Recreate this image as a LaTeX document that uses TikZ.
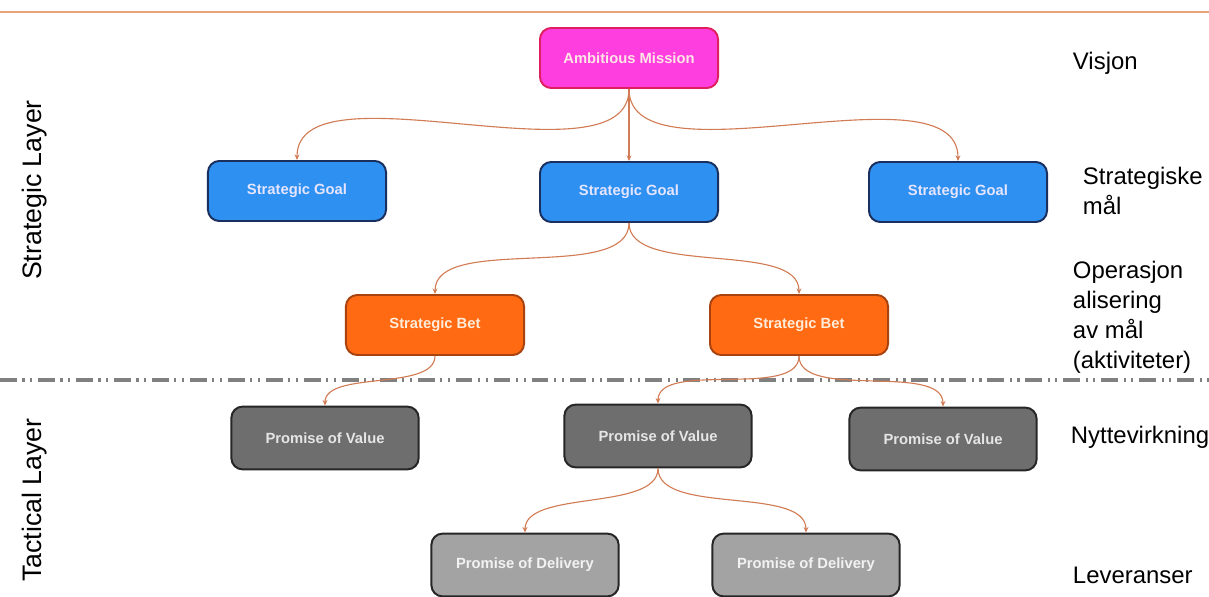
\documentclass[tikz,border=0pt]{standalone}
\usepackage{fontspec}
\setmainfont{Liberation Sans}
\usetikzlibrary{arrows.meta}

\definecolor{topline}{HTML}{E9A57A}
\definecolor{linkcol}{HTML}{D27C55}
\definecolor{missionfill}{HTML}{FF3EE0}
\definecolor{missionline}{HTML}{E0205E}
\definecolor{goalfill}{HTML}{2E90F0}
\definecolor{goalline}{HTML}{1B2F5E}
\definecolor{betfill}{HTML}{FF6A12}
\definecolor{betline}{HTML}{A8420E}
\definecolor{valuefill}{HTML}{6E6E6E}
\definecolor{deliveryfill}{HTML}{A3A3A3}

\tikzset{
  box/.style={draw, line width=1.4pt, rounded corners=8pt, inner sep=0pt,
    minimum width=4.45cm, minimum height=1.5cm,
    font=\fontsize{10.5}{12}\selectfont\bfseries},
  mission/.style={box, fill=missionfill, draw=missionline, text=pink!40},
  goal/.style={box, fill=goalfill, draw=goalline, text=blue!10},
  bet/.style={box, fill=betfill, draw=betline, text=orange!15},
  value/.style={box, fill=valuefill, draw=black!85, text=black!10,
    minimum width=4.68cm, minimum height=1.57cm},
  delivery/.style={box, fill=deliveryfill, draw=black!85, text=black!5,
    minimum width=4.68cm, minimum height=1.57cm},
  link/.style={linkcol, line width=0.8pt, -{Stealth[length=4pt,width=3.5pt]}},
  side/.style={anchor=west, align=left, font=\fontsize{17}{21.3}\selectfont},
  layer/.style={rotate=90, font=\fontsize{19}{22}\selectfont}
}

\begin{document}
\begin{tikzpicture}[x=0.025cm,y=0.025cm]
\useasboundingbox (0,0) rectangle (1209,-597);
\draw[topline, line width=1.5pt] (0,-12) -- (1209,-12);
\draw[black!50, line width=2.2pt, dash pattern=on 12pt off 4pt on 1.5pt off 4pt on 1.5pt off 4pt] (0,-380) -- (1209,-380);

\node[mission] (am) at (629,-58) {Ambitious Mission};

\node[goal] (g1) at (297,-191) {Strategic Goal};
\node[goal] (g2) at (629,-192) {Strategic Goal};
\node[goal] (g3) at (958,-192) {Strategic Goal};

\node[bet] (b1) at (435,-325) {Strategic Bet};
\node[bet] (b2) at (799,-325) {Strategic Bet};

\node[value] (v1) at (325,-438) {Promise of Value};
\node[value] (v2) at (658,-436) {Promise of Value};
\node[value] (v3) at (943,-439) {Promise of Value};

\node[delivery] (d1) at (525,-565) {Promise of Delivery};
\node[delivery] (d2) at (806,-565) {Promise of Delivery};

\foreach \a/\b in {am/g1,am/g2,am/g3,g2/b1,g2/b2,b1/v1,b2/v2,b2/v3,v2/d1,v2/d2}
  \draw[link] (\a.south) to[out=-90,in=90,looseness=0.75] (\b.north);

\node[side] (visjon) at (1068,-63) {Visjon};
\node[side] (mal) at (1078,-191) {Strategiske\\mål};
\node[side] (aktiv) at (1068,-317) {Operasjon\\alisering\\av mål\\(aktiviteter)};
\node[side] (nytte) at (1066,-437) {Nyttevirkning};
\node[side] (lev) at (1068,-575) {Leveranser};

\node[layer] (strat) at (35,-190) {Strategic Layer};
\node[layer] (takt) at (35,-500) {Tactical Layer};
\end{tikzpicture}
\end{document}
